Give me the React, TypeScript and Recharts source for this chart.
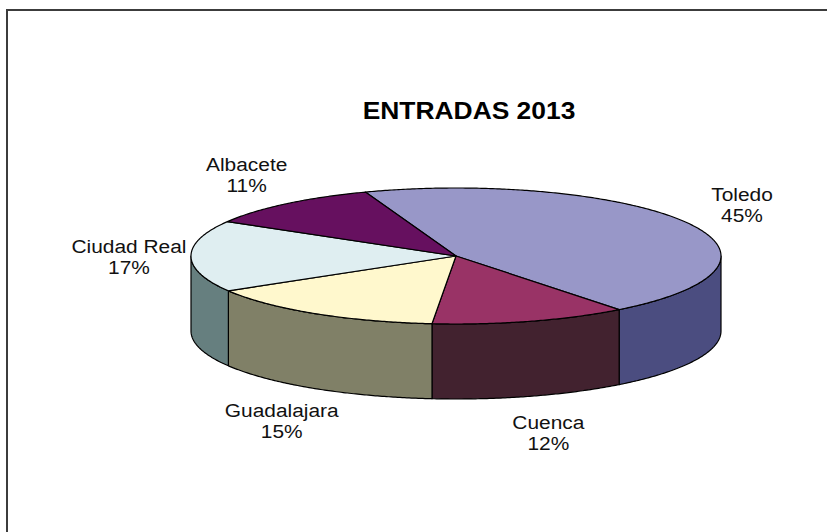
import React from 'react';
import { PieChart, Pie } from 'recharts';

const title = 'ENTRADAS 2013';
const categories = ['Toledo', 'Cuenca', 'Guadalajara', 'Ciudad Real', 'Albacete'];
const values = [45, 12, 15, 17, 11];
const topColors = ['#9897C8', '#993366', '#FFF8CD', '#DFEEF1', '#66105F'];
const sideColors = ['#4B4D80', '#42222F', '#808067', '#667F7F', '#330830'];

const data = categories.map((name, i) => ({ name, value: values[i] }));

const FLAT = 68 / 265; // vertical squash of the tilted pie
const DEPTH = 75; // thickness of the pie
const START = 110;

const rad = (d: number) => (d * Math.PI) / 180;

function arc(cx: number, cy: number, rx: number, ry: number, a: number, b: number, dy = 0) {
  const n = Math.max(2, Math.ceil(Math.abs(b - a) / 0.5));
  const pts: string[] = [];
  for (let i = 0; i <= n; i++) {
    const t = a + ((b - a) * i) / n;
    pts.push(`${(cx + rx * Math.cos(rad(t))).toFixed(2)},${(cy - ry * Math.sin(rad(t)) + dy).toFixed(2)}`);
  }
  return pts;
}

const renderSide = (p: any) => {
  const { cx, cy, outerRadius, startAngle, endAngle, index } = p;
  const rx = outerRadius;
  const ry = outerRadius * FLAT;
  const lo = Math.min(startAngle, endAngle);
  const hi = Math.max(startAngle, endAngle);
  const paths: React.ReactNode[] = [];
  for (let k = -2; k <= 2; k++) {
    const f0 = 180 + 360 * k;
    const f1 = 360 + 360 * k;
    const t1 = Math.max(lo, f0);
    const t2 = Math.min(hi, f1);
    if (t2 - t1 > 0.01) {
      const top = arc(cx, cy, rx, ry, t1, t2, 0);
      const bottom = arc(cx, cy, rx, ry, t2, t1, DEPTH);
      const d = `M${top.join(' L')} L${bottom.join(' L')} Z`;
      paths.push(
        <path key={k} d={d} fill={sideColors[index]} stroke="#000" strokeWidth={1.2} strokeLinejoin="round" />
      );
    }
  }
  return <g key={`side-${index}`}>{paths}</g>;
};

const renderTop = (p: any) => {
  const { cx, cy, outerRadius, startAngle, endAngle, index } = p;
  const rx = outerRadius;
  const ry = outerRadius * FLAT;
  const pts = arc(cx, cy, rx, ry, startAngle, endAngle, 0);
  const d = `M${cx},${cy} L${pts.join(' L')} Z`;
  return (
    <path key={`top-${index}`} d={d} fill={topColors[index]} stroke="#000" strokeWidth={1.2} strokeLinejoin="round" />
  );
};

const renderText = (p: any) => {
  const { cx, cy, outerRadius, startAngle, endAngle, index, percent, name } = p;
  const mid = (startAngle + endAngle) / 2;
  const ux = Math.cos(rad(mid));
  const uy = Math.sin(rad(mid));
  const rx = outerRadius + 62;
  const ry = outerRadius * FLAT + 38;
  const x = cx + rx * ux;
  const y = cy - ry * uy + (uy < 0 ? DEPTH * Math.min(1, -uy * 1.3) : 0);
  const fs = 19;
  return (
    <g key={`lbl-${index}`} transform={`translate(${x},${y}) scale(1.1,1)`}>
      <text x={0} y={-10.5 + fs * 0.35} textAnchor="middle" fontFamily="Arial, 'Liberation Sans', sans-serif" fontSize={fs} fill="#111">
        {name}
      </text>
      <text x={0} y={10.5 + fs * 0.35} textAnchor="middle" fontFamily="Arial, 'Liberation Sans', sans-serif" fontSize={fs} fill="#111">
        {`${Math.round(percent * 100)}%`}
      </text>
    </g>
  );
};

export default function App() {
  return (
    <div style={{ position: 'absolute', left: 0, top: 0, width: 827, height: 532, overflow: 'hidden', background: '#fff' }}>
      <div
        style={{
          position: 'absolute',
          left: 6,
          top: 9,
          width: 821,
          height: 523,
          borderTop: '2px solid #3c3c3c',
          borderLeft: '2px solid #3c3c3c',
          boxSizing: 'border-box',
        }}
      />
      <svg width={827} height={532} style={{ position: 'absolute', left: 0, top: 0 }}>
        <text
          x={0}
          y={0}
          transform="translate(469,119) scale(1.1,1)"
          textAnchor="middle"
          fontFamily="Arial, 'Liberation Sans', sans-serif"
          fontWeight="bold"
          fontSize={24}
          fill="#000"
        >
          {title}
        </text>
      </svg>
      <div style={{ position: 'absolute', left: 0, top: 0 }}>
        <PieChart width={827} height={532} margin={{ top: 0, right: 0, bottom: 0, left: 0 }}>
          <Pie
            data={data}
            dataKey="value"
            nameKey="name"
            cx={456}
            cy={256}
            outerRadius={265}
            startAngle={START}
            endAngle={START - 360}
            fill="none"
            stroke="none"
            label={renderSide}
            labelLine={false}
            isAnimationActive={false}
          />
          <Pie
            data={data}
            dataKey="value"
            nameKey="name"
            cx={456}
            cy={256}
            outerRadius={265}
            startAngle={START}
            endAngle={START - 360}
            fill="none"
            stroke="none"
            label={renderTop}
            labelLine={false}
            isAnimationActive={false}
          />
          <Pie
            data={data}
            dataKey="value"
            nameKey="name"
            cx={456}
            cy={256}
            outerRadius={265}
            startAngle={START}
            endAngle={START - 360}
            fill="none"
            stroke="none"
            label={renderText}
            labelLine={false}
            isAnimationActive={false}
          />
        </PieChart>
      </div>
    </div>
  );
}
